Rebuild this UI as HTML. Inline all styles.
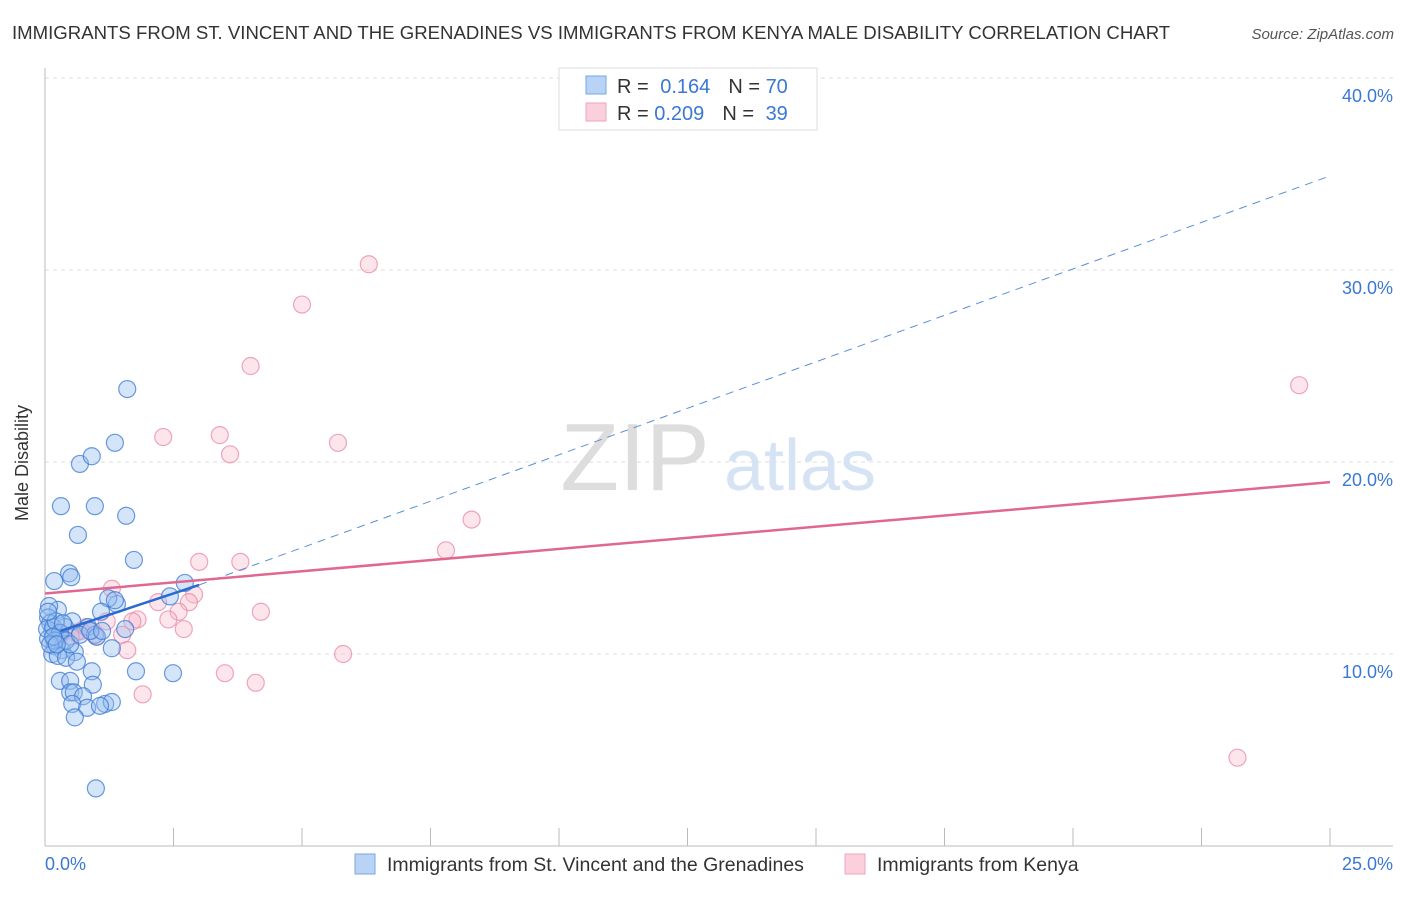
<!DOCTYPE html>
<html><head><meta charset="utf-8"><style>
body{margin:0;background:#fff;font-family:"Liberation Sans",sans-serif;}
svg text{font-family:"Liberation Sans",sans-serif;}
</style></head><body>
<svg width="1406" height="892" xmlns="http://www.w3.org/2000/svg">
<text x="12" y="39" font-size="18.6" fill="#333">IMMIGRANTS FROM ST. VINCENT AND THE GRENADINES VS IMMIGRANTS FROM KENYA MALE DISABILITY CORRELATION CHART</text>
<text x="1394" y="39" font-size="15" fill="#555" font-style="italic" text-anchor="end">Source: ZipAtlas.com</text>
<g id="grid"></g>
<g><text x="635" y="490" font-size="96" fill="#ddd" font-family="Liberation Serif" text-anchor="middle">ZIP</text><text x="800" y="490" font-size="72" fill="#d5e3f5" text-anchor="middle">atlas</text></g>
<line x1="45" y1="68" x2="45" y2="846" stroke="#bbb"/>
<line x1="45" y1="846" x2="1393" y2="846" stroke="#bbb"/>
<text x="20" y="455" font-size="18" fill="#333" transform="rotate(-90 28 455)" text-anchor="middle">Male Disability</text>
<text x="45" y="870" font-size="18" fill="#3a78d4">0.0%</text>
<text x="1393" y="870" font-size="18" fill="#3a78d4" text-anchor="end">25.0%</text>
<g id="pts"></g>
<g id="lines"></g>
<g>
<rect x="559" y="68" width="258" height="62" fill="#fff" stroke="#ddd"/>
<rect x="586" y="76" width="20" height="18" fill="#b8d3f5" stroke="#7aa7e0"/>
<rect x="586" y="103" width="20" height="18" fill="#fbd0dc" stroke="#eea4ba"/>
<text x="617" y="93" font-size="20" fill="#333">R = <tspan fill="#3a78d4" dx="6">0.164</tspan><tspan dx="18">N = </tspan><tspan fill="#3a78d4">70</tspan></text>
<text x="617" y="120" font-size="20" fill="#333">R = <tspan fill="#3a78d4">0.209</tspan><tspan dx="18">N = </tspan><tspan fill="#3a78d4" dx="6">39</tspan></text>
</g>
<g>
<rect x="355" y="854" width="20" height="20" fill="#b8d3f5" stroke="#7aa7e0"/>
<text x="387" y="871" font-size="19.5" fill="#333">Immigrants from St. Vincent and the Grenadines</text>
<rect x="845" y="854" width="20" height="20" fill="#fbd0dc" stroke="#eea4ba"/>
<text x="877" y="871" font-size="19.5" fill="#333">Immigrants from Kenya</text>
</g>
</svg>
<script>
const yTicks=[10,20,30,40];
const yTickLabels=["10.0%","20.0%","30.0%","40.0%"];
const xTicks=[0,2.5,5,7.5,10,12.5,15,17.5,20,22.5,25];
const blueX=[1.6,1.36,0.68,0.91,0.31,0.97,1.58,0.64,1.73,0.47,0.51,0.18,2.72,2.43,1.40,1.23,1.09,0.25,0.08,0.06,0.53,0.84,1.56,0.10,0.14,0.29,0.39,0.97,1.01,1.30,0.19,0.33,0.58,0.14,0.25,0.41,0.62,0.91,1.77,2.49,0.29,0.93,0.49,0.49,0.56,0.74,0.53,0.82,1.17,1.30,1.07,0.58,0.99,0.06,0.04,0.16,0.21,0.29,0.41,0.49,0.68,0.88,0.19,0.10,0.35,1.11,1.36,0.06,0.16,0.23];
const blueY=[23.8,21.0,19.9,20.3,17.7,17.7,17.2,16.2,14.9,14.2,14.0,13.8,13.7,13.0,12.6,12.9,12.2,12.3,12.5,11.9,11.7,11.4,11.3,11.6,11.2,11.1,11.4,11.0,10.9,10.3,10.4,10.2,10.1,10.0,9.9,9.8,9.6,9.1,9.1,9.0,8.6,8.4,8.6,8.0,8.0,7.8,7.4,7.2,7.4,7.5,7.3,6.7,3.0,10.8,11.3,11.4,11.7,11.1,10.7,10.5,11.0,11.2,10.7,10.5,11.6,11.2,12.8,12.2,10.9,10.5];
const pinkX=[6.3,5.0,4.0,24.4,2.3,3.4,3.6,5.7,8.3,7.8,3.0,3.8,1.3,2.2,2.9,2.8,2.6,4.2,1.8,2.4,1.7,1.2,2.7,0.9,1.0,0.6,0.3,0.2,1.5,0.3,1.6,5.8,3.5,4.1,1.9,23.2,0.7,0.5,0.8];
const pinkY=[30.3,28.2,25.0,24.0,21.3,21.4,20.4,21.0,17.0,15.4,14.8,14.8,13.4,12.7,13.1,12.7,12.2,12.2,11.8,11.8,11.7,11.7,11.3,11.2,10.9,11.1,11.0,10.9,11.0,11.1,10.2,10.0,9.0,8.5,7.9,4.6,11.2,10.9,11.4];
const blueLine={x0:0.3,y0:11.2,x1:3.0,y1:13.6,x2:25,y2:34.9};
const pinkLine={x0:0,y0:13.15,x1:25,y1:18.95};
const X=v=>45+v/25*1285, Y=v=>846-v*19.2;
const NS="http://www.w3.org/2000/svg";
const grid=document.getElementById('grid');
yTicks.forEach((t,i)=>{
 const l=document.createElementNS(NS,'line');
 
 
 l.setAttribute('x1',45);l.setAttribute('x2',1393);l.setAttribute('y1',Y(t));l.setAttribute('y2',Y(t));
 l.setAttribute('stroke','#ddd');l.setAttribute('stroke-dasharray','4,4');grid.appendChild(l);
 const tx=document.createElementNS(NS,'text');
 
 
 tx.setAttribute('x',1393);tx.setAttribute('y',Y(t)+24);tx.setAttribute('text-anchor','end');
 tx.setAttribute('font-size','18');tx.setAttribute('fill','#3a78d4');tx.textContent=yTickLabels[i];grid.appendChild(tx);
});
xTicks.forEach(t=>{
 const l=document.createElementNS(NS,'line');
 
 
 l.setAttribute('x1',X(t));l.setAttribute('x2',X(t));l.setAttribute('y1',828);l.setAttribute('y2',846);
 l.setAttribute('stroke','#bbb');grid.appendChild(l);
});
const pts=document.getElementById('pts');
function dot(x,y,fill,stroke,name){
 const c=document.createElementNS(NS,'circle');
 
 
 c.setAttribute('cx',X(x));c.setAttribute('cy',Y(y));c.setAttribute('r',8.5);
 c.setAttribute('fill',fill);c.setAttribute('stroke',stroke);c.setAttribute('stroke-width','1.2');pts.appendChild(c);
}
pinkX.forEach((x,i)=>dot(x,pinkY[i],'rgba(248,180,200,0.35)','rgba(232,130,160,0.7)','kenya-point'));
blueX.forEach((x,i)=>dot(x,blueY[i],'rgba(150,190,240,0.4)','rgba(58,120,212,0.75)','svg-point'));
const lines=document.getElementById('lines');
function ln(a,b,c,d,col,w,dash,name){
 const l=document.createElementNS(NS,'line');
 
 
 l.setAttribute('x1',X(a));l.setAttribute('y1',Y(b));l.setAttribute('x2',X(c));l.setAttribute('y2',Y(d));
 l.setAttribute('stroke',col);l.setAttribute('stroke-width',w);if(dash)l.setAttribute('stroke-dasharray',dash);lines.appendChild(l);
}
ln(blueLine.x1,blueLine.y1,blueLine.x2,blueLine.y2,'#5a8fd8',1,'8,6','svg-trend-dashed');
ln(blueLine.x0,blueLine.y0,blueLine.x1,blueLine.y1,'#2a6ad0',2.5,null,'svg-trend-line');
ln(pinkLine.x0,pinkLine.y0,pinkLine.x1,pinkLine.y1,'#e06890',2.5,null,'kenya-trend-line');
</script>
</body></html>
